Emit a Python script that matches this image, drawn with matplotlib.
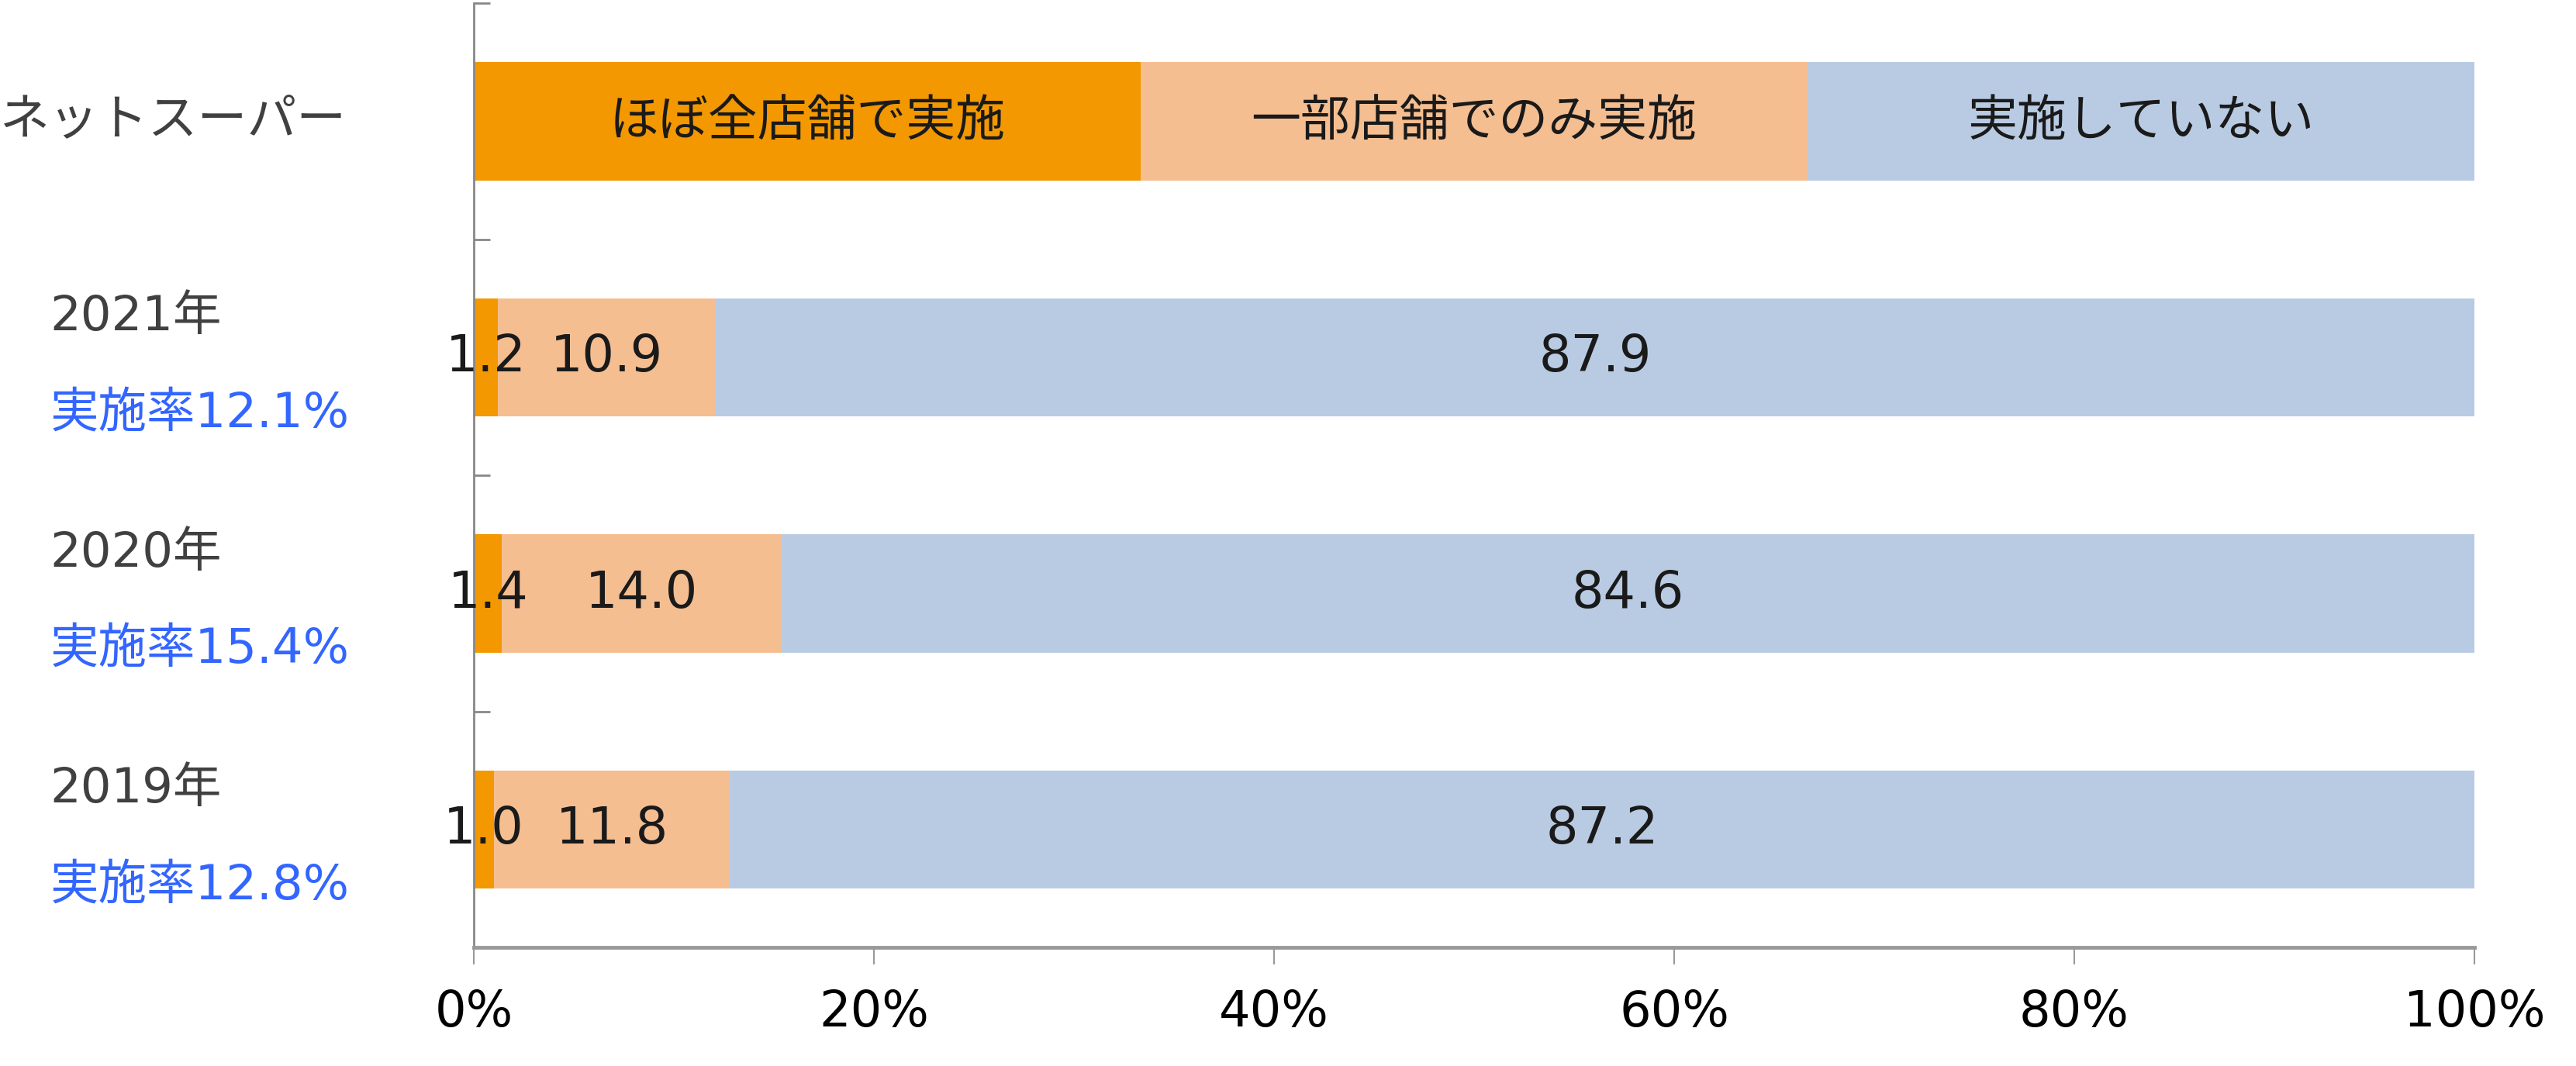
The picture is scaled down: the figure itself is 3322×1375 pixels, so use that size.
import matplotlib
matplotlib.use("Agg")
import matplotlib.pyplot as plt
from matplotlib.ticker import FixedLocator, FuncFormatter

# Latin glyphs in DejaVu (Verdana-like), kana/kanji from Noto CJK
plt.rcParams['font.family'] = ['DejaVu Sans', 'Noto Sans CJK JP']

# data
years = ["2021年", "2020年", "2019年"]
rates = ["実施率12.1%", "実施率15.4%", "実施率12.8%"]
all_stores = [1.2, 1.4, 1.0]
some_stores = [10.9, 14.0, 11.8]
not_done = [87.9, 84.6, 87.2]
legend_labels = ["ほぼ全店舗で実施", "一部店舗でのみ実施", "実施していない"]
header = "ネットスーパー"

c_orange = "#F39800"
c_peach = "#F5BE91"
c_blue = "#B9CBE3"
jp = ['Noto Sans CJK JP', 'DejaVu Sans']

fig = plt.figure(figsize=(33.22, 13.75), dpi=100)
ax = fig.add_axes([0.184, 0.111, 0.7765, 0.886])

# header bar used as legend (three equal thirds)
ax.barh(3, 100/3, left=0, height=0.5, color=c_orange)
ax.barh(3, 100/3, left=100/3, height=0.5, color=c_peach)
ax.barh(3, 100/3, left=200/3, height=0.5, color=c_blue)
for i, lab in enumerate(legend_labels):
    ax.text(100/3*i + 100/6, 3, lab, ha='center', va='center', fontsize=46,
            color='#1a1a1a', family=jp)

ypos = [2, 1, 0]
for y, a, b, c in zip(ypos, all_stores, some_stores, not_done):
    ax.barh(y, a, left=0, height=0.5, color=c_orange)
    ax.barh(y, b, left=a, height=0.5, color=c_peach)
    ax.barh(y, c, left=a+b, height=0.5, color=c_blue)
    for left, w in [(0, a), (a, b), (a+b, c)]:
        ax.text(left + w/2, y, f"{w:.1f}", ha='center', va='center', fontsize=47, color='#1a1a1a')

# left side labels
ax.text(-23.7, 3, header, ha='left', va='center', fontsize=46, color='#404040',
        family=jp, clip_on=False)
for y, yr, rt in zip(ypos, years, rates):
    ax.text(-21.2, y + 0.17, yr, ha='left', va='center', fontsize=45, color='#404040', clip_on=False)
    ax.text(-21.2, y - 0.24, rt, ha='left', va='center', fontsize=45, color='#3366FF', clip_on=False)

ax.set_xlim(0, 100)
ax.set_ylim(-0.5, 3.5)
ax.xaxis.set_major_locator(FixedLocator([0, 20, 40, 60, 80, 100]))
ax.xaxis.set_major_formatter(FuncFormatter(lambda v, p: f"{int(v)}%"))
ax.yaxis.set_major_locator(FixedLocator([-0.5, 0.5, 1.5, 2.5, 3.5]))
ax.set_yticklabels([])

for s in ['top', 'right']:
    ax.spines[s].set_visible(False)
ax.spines['left'].set_color('#888888')
ax.spines['left'].set_linewidth(2)
ax.spines['bottom'].set_color('#999999')
ax.spines['bottom'].set_linewidth(3.5)
ax.tick_params(axis='y', direction='in', length=15, width=2, color='#888888')
ax.tick_params(axis='x', direction='out', length=16, width=1.5, color='#999999',
               labelsize=46, pad=22, labelcolor='#000000')

fig.savefig("out.png", dpi=100)
